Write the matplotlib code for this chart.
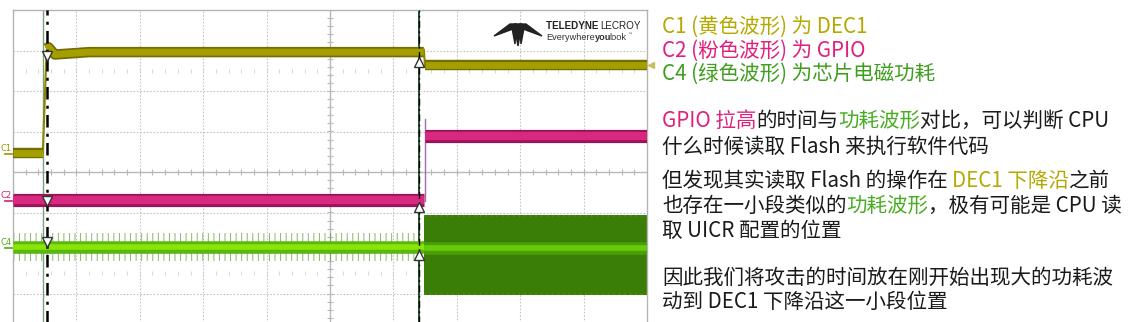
import numpy as np
import matplotlib
matplotlib.use("Agg")
import matplotlib.pyplot as plt
from matplotlib.patches import Polygon

W, H = 1130, 322
DPI = 100
plt.rcParams["hatch.linewidth"] = 0.7

# ---------------- scope data (x in time divisions, y in volt divisions) ----------------
c1_low_t = [0.0, 0.47]
c1_low_v = [0.47, 0.47]
c1_edge_t = [0.47, 0.53]
c1_edge_v = [0.47, 3.0]
c1_high_t = [0.52, 0.56, 0.66, 1.2, 6.48]
c1_high_v = [3.05, 3.08, 2.90, 2.96, 2.96]
c1_fall_t = [6.48, 6.50]
c1_fall_v = [3.02, 2.60]
c1_end_t = [6.50, 10.0]
c1_end_v = [2.64, 2.64]

c2_low_t = [0.0, 6.49]
c2_low_v = [-0.69, -0.69]
c2_high_t = [6.50, 10.0]
c2_high_v = [0.89, 0.89]
c2_edge_v = [-0.72, 1.32]

c4_pre_t = [0.0, 6.49]
c4_pre_mid = [-1.85, -1.85]
c4_pre_top = [-1.50, -1.50]
c4_pre_bot = [-2.20, -2.20]
c4_post_t = [6.49, 10.0]
c4_post_mid = [-1.87, -1.87]
c4_post_top = [-1.06, -1.06]
c4_post_bot = [-3.04, -3.04]

cursor1_x = 0.54
cursor1_solid_x = 0.47
cursor2_x = 6.40
cursor1_marks = [2.86, -0.72, -1.72]
cursor2_marks = [2.72, -0.86, -2.05]

chan_names = ["C1", "C2", "C4"]
chan_offsets = [0.47, -0.69, -1.85]
chan_colors = ["#9c9400", "#d01c74", "#4caa14"]

# ---------------- side text ----------------
YEL = "#b3a900"
PINK = "#e0217c"
GRN = "#3f9e1d"
GRN2 = "#47ad22"
BLK = "#1a1a1a"

text_lines = [
    (33, [("C1 (黄色波形) 为 DEC1", YEL)]),
    (57, [("C2 (粉色波形) 为 GPIO", PINK)]),
    (80, [("C4 (绿色波形) 为芯片电磁功耗", GRN)]),
    (127, [("GPIO 拉高", PINK), ("的时间与", BLK), ("功耗波形", GRN2), ("对比，可以判断 CPU", BLK)]),
    (153, [("什么时候读取 Flash 来执行软件代码", BLK)]),
    (187, [("但发现其实读取 Flash 的操作在 ", BLK), ("DEC1 下降沿", YEL), ("之前", BLK)]),
    (212, [("也存在一小段类似的", BLK), ("功耗波形", GRN2), ("，极有可能是 CPU 读", BLK)]),
    (237, [("取 UICR 配置的位置", BLK)]),
    (284, [("因此我们将攻击的时间放在刚开始出现大的功耗波", BLK)]),
    (308, [("动到 DEC1 下降沿这一小段位置", BLK)]),
]
TEXT_X = 662
FS = 14.8
FONT = ["Noto Sans CJK SC", "DejaVu Sans"]

fig = plt.figure(figsize=(W / DPI, H / DPI), dpi=DPI)
fig.set_facecolor("white")

# scope screen: 10 x 8 divisions, left 13px, right 647px, top 10px, 40.5 px/div
left, right, top = 13, 647, 10
bottom = top + 8 * 40.5
ax = fig.add_axes([left / W, 1 - bottom / H, (right - left) / W, (bottom - top) / H])
ax.set_xlim(0, 10)
ax.set_ylim(-4, 4)
ax.set_xticks([])
ax.set_yticks([])
for s in ax.spines.values():
    s.set_color("#b4b4b4")
    s.set_linewidth(1.0)

# grid
for gx in range(1, 10):
    if gx == 5:
        continue
    ax.axvline(gx, color="#c4c4c4", lw=0.8, ls=(0, (1.5, 1.5)), zorder=0)
for gy in range(-3, 4):
    if gy == 0:
        continue
    ax.axhline(gy, color="#c4c4c4", lw=0.8, ls=(0, (1.5, 1.5)), zorder=0)
ax.axvline(5, color="#b8b8b8", lw=1.0, zorder=0)
ax.axhline(0, color="#b8b8b8", lw=1.0, zorder=0)
minor_x = np.arange(0.2, 10, 0.2)
minor_y = np.arange(-3.8, 4, 0.2)
ax.plot(minor_x, np.zeros_like(minor_x), ls="none", marker="|", ms=4, mew=0.8, color="#b8b8b8", zorder=0)
ax.plot(np.full_like(minor_y, 5), minor_y, ls="none", marker="_", ms=4, mew=0.8, color="#b8b8b8", zorder=0)
for ry in (2.5, -2.5):
    ax.plot(minor_x, np.full_like(minor_x, ry), ls="none", marker="|", ms=2.5, mew=0.6, color="#d0d0d0", zorder=0)

# cursors
ax.axvline(cursor1_solid_x, color="#7aa27a", lw=1.0, zorder=1)
ax.axvline(cursor2_x, color="#24522a", lw=1.4, zorder=1)

# C4 (green, power)
ax.fill_between(c4_pre_t, c4_pre_bot, c4_pre_top, facecolor="none", edgecolor=(0.33, 0.6, 0.15, 0.7),
                hatch="|||", lw=0, zorder=2)
ax.plot(c4_pre_t, c4_pre_mid, color="#58b80c", lw=9, solid_capstyle="butt", zorder=3)
ax.plot(c4_pre_t, c4_pre_mid, color="#8ae40a", lw=4, solid_capstyle="butt", zorder=3)
ax.fill_between(c4_post_t, c4_post_bot, c4_post_top, facecolor="#3b7e07", edgecolor="#4f9a1f",
                hatch="|||", lw=0, zorder=2)
ax.fill_between(c4_post_t, np.array(c4_post_bot) + 0.05, np.array(c4_post_top) - 0.05,
                color="#3b7e07", lw=0, zorder=2)
ax.plot(c4_post_t, c4_post_mid, color="#4c9e06", lw=9, solid_capstyle="butt", zorder=3)
ax.plot(c4_post_t, c4_post_mid, color="#66cc0a", lw=4, solid_capstyle="butt", zorder=3)

# C2 (pink, GPIO)
ax.plot([c2_high_t[0], c2_high_t[0]], c2_edge_v, color="#a06ea8", lw=1.0, zorder=3)
for tt, vv in ((c2_low_t, c2_low_v), (c2_high_t, c2_high_v)):
    ax.plot(tt, vv, color="#9a1459", lw=9.5, solid_capstyle="butt", zorder=4)
    ax.plot(tt, vv, color="#d8287f", lw=6, solid_capstyle="butt", zorder=4)

# C1 (yellow, DEC1)
ax.plot(c1_edge_t, c1_edge_v, color="#8a8400", lw=1.5, zorder=5)
ax.plot(c1_fall_t, c1_fall_v, color="#8a8400", lw=1.5, zorder=5)
for tt, vv in ((c1_low_t, c1_low_v), (c1_high_t, c1_high_v), (c1_end_t, c1_end_v)):
    ax.plot(tt, vv, color="#736e00", lw=7.5, solid_capstyle="butt", zorder=5)
    ax.plot(tt, vv, color="#a59e00", lw=5, solid_capstyle="butt", zorder=5)

# dash-dot cursor on top
ax.axvline(cursor1_x, color="black", lw=1.8, ls=(0, (5, 2.5, 1.2, 2.5)), zorder=6)
ax.axvline(cursor2_x, color="black", lw=1.0, ls=(0, (5, 2.5, 1.2, 2.5)), zorder=6)
ax.plot([cursor1_x] * 3, cursor1_marks, ls="none", marker="v", ms=7, mfc="white", mec="#333333", mew=1, zorder=7)
ax.plot([cursor2_x] * 3, cursor2_marks, ls="none", marker="^", ms=7, mfc="white", mec="#333333", mew=1, zorder=7)

# channel labels left of screen
for name, off, col in zip(chan_names, chan_offsets, chan_colors):
    ax.text(-0.19, off + 0.12, name, color=col, fontsize=6, ha="left", va="center", clip_on=False)
    ax.plot([-0.13, 0.0], [off - 0.03, off - 0.03], color=col, lw=1.2, clip_on=False)
ax.plot([10.06], [2.64], marker="<", ms=4, color="#c8c060", clip_on=False)

# Teledyne LeCroy logo mark
lax = fig.add_axes([490 / W, 1 - 48 / H, 150 / W, 33 / H])
lax.set_xlim(0, 150)
lax.set_ylim(33, 0)
lax.axis("off")
ink = "#222222"
lax.add_patch(Polygon([[4, 21], [20, 9], [27, 9], [23, 14]], closed=True, color=ink))
lax.add_patch(Polygon([[52, 21], [36, 9], [29, 9], [33, 14]], closed=True, color=ink))
lax.add_patch(Polygon([[24, 9], [32, 9], [28, 31]], closed=True, color=ink))
lax.add_patch(Polygon([[22, 13], [26, 15], [25, 29]], closed=True, color=ink))
lax.add_patch(Polygon([[34, 13], [30, 15], [31, 29]], closed=True, color=ink))

fig.canvas.draw()
renderer = fig.canvas.get_renderer()


def text_width(s, **kw):
    t = fig.text(0, 0, s, **kw)
    w = t.get_window_extent(renderer).width
    t.remove()
    return w


def put_segments(x0, base_y, segs, **kw):
    prefix = ""
    for seg, col, extra in segs:
        style = dict(kw)
        style.update(extra)
        if prefix:
            dx = text_width(prefix + seg[0], **kw) - text_width(seg[0], **kw)
        else:
            dx = 0
        fig.text((x0 + dx) / W, 1 - base_y / H, seg, color=col, ha="left", va="baseline", **style)
        prefix += seg


logo_font = dict(family="Liberation Sans")
put_segments(546, 29, [("TELEDYNE ", "#222222", {"fontweight": "bold"}),
                       ("LECROY", "#222222", {})], fontsize=7.1, **logo_font)
put_segments(546, 40, [("Everywhere", "#333333", {}), ("you", "#333333", {"fontweight": "bold"}),
                       ("look", "#333333", {})], fontsize=6.6, **logo_font)
fig.text(627 / W, 1 - 36 / H, "™", fontsize=3.5, color="#333333", family="DejaVu Sans")

# side text, multi-colored segments
for base_y, segs in text_lines:
    put_segments(TEXT_X, base_y, [(s, c, {}) for s, c in segs], fontsize=FS, family=FONT)

fig.savefig("out.png", dpi=DPI)
